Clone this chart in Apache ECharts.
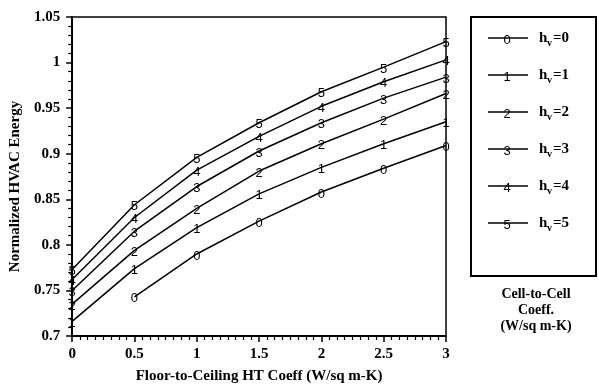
<!DOCTYPE html>
<html>
<head>
<meta charset="utf-8">
<script src="https://cdn.jsdelivr.net/npm/echarts@6/dist/echarts.min.js"></script>
<style>
  html, body { margin: 0; padding: 0; background: #fff; }
  #chart { width: 599px; height: 389px; }
</style>
</head>
<body>
<div id="chart"></div>
<script>
var xValues = [0, 0.5, 1, 1.5, 2, 2.5, 3];
var hvLevels = [0, 1, 2, 3, 4, 5];
var hv0 = [null, 0.743, 0.790, 0.826, 0.858, 0.884, 0.909];
var hv1 = [0.716, 0.774, 0.819, 0.856, 0.885, 0.911, 0.935];
var hv2 = [0.735, 0.794, 0.840, 0.881, 0.911, 0.938, 0.966];
var hv3 = [0.750, 0.815, 0.864, 0.903, 0.934, 0.961, 0.984];
var hv4 = [0.762, 0.830, 0.882, 0.919, 0.952, 0.979, 1.003];
var hv5 = [0.773, 0.844, 0.896, 0.934, 0.968, 0.995, 1.023];
var seriesValues = [hv0, hv1, hv2, hv3, hv4, hv5];

var serif = '"Liberation Serif", "DejaVu Serif", serif';
var myChart = echarts.init(document.getElementById('chart'));

var series = seriesValues.map(function (vals, i) {
	return {
		name: 'hv=' + hvLevels[i],
		type: 'line',
		data: xValues.map(function (x, j) { return [x, vals[j]]; }).filter(function (p) { return p[1] != null; }),
		symbol: 'rect',
		symbolSize: 12,
		itemStyle: { color: 'rgba(0,0,0,0)' },
		lineStyle: { color: '#000', width: 1.5 },
		label: {
			show: true,
			position: 'inside',
			offset: [0, 2],
			formatter: String(hvLevels[i]),
			color: '#000',
			fontFamily: '"Liberation Sans", sans-serif',
			fontSize: 13
		},
		animation: false
	};
});

// hand-drawn legend box on the right
var legendTop = 38, legendStep = 37;
var graphics = [{
	type: 'rect',
	shape: { x: 471, y: 17, width: 125, height: 259 },
	style: { fill: '#fff', stroke: '#000', lineWidth: 2 }
}];
hvLevels.forEach(function (h, i) {
	var y = legendTop + i * legendStep;
	graphics.push({ type: 'line', shape: { x1: 488, y1: y, x2: 528, y2: y }, style: { stroke: '#000', lineWidth: 1.5 } });
	graphics.push({ type: 'text', style: { text: String(h), x: 507, y: y + 2, align: 'center', verticalAlign: 'middle', font: '13px "Liberation Sans", sans-serif', fill: '#000' } });
	graphics.push({ type: 'text', style: { text: 'h', x: 539, y: y, align: 'left', verticalAlign: 'middle', font: 'bold 15px ' + serif, fill: '#000' } });
	graphics.push({ type: 'text', style: { text: 'v', x: 547, y: y + 5, align: 'left', verticalAlign: 'middle', font: 'bold 10px ' + serif, fill: '#000' } });
	graphics.push({ type: 'text', style: { text: '=' + h, x: 553, y: y, align: 'left', verticalAlign: 'middle', font: 'bold 15px ' + serif, fill: '#000' } });
});
graphics.push({
	type: 'text',
	style: { text: 'Cell-to-Cell\nCoeff.\n(W/sq m-K)', x: 536, y: 286, align: 'center', verticalAlign: 'top', lineHeight: 16, font: 'bold 14px ' + serif, fill: '#000' }
});

var option = {
	animation: false,
	grid: {
		left: 67,
		right: 153,
		top: 17,
		bottom: 47,
		show: true,
		borderColor: '#000',
		borderWidth: 1.5
	},
	xAxis: {
		type: 'value',
		min: 0,
		max: 3,
		interval: 0.5,
		name: 'Floor-to-Ceiling HT Coeff (W/sq m-K)',
		nameLocation: 'middle',
		nameGap: 33,
		nameTextStyle: { fontFamily: serif, fontWeight: 'bold', fontSize: 15, color: '#000' },
		axisLine: { lineStyle: { color: '#000', width: 2 } },
		axisTick: { length: 6, lineStyle: { color: '#000', width: 1.5 } },
		minorTick: { show: true, splitNumber: 8, length: 4, lineStyle: { color: '#000', width: 1.2 } },
		splitLine: { show: false },
		axisLabel: { margin: 11, fontFamily: serif, fontWeight: 'bold', fontSize: 15, color: '#000' }
	},
	yAxis: {
		type: 'value',
		min: 0.7,
		max: 1.05,
		interval: 0.05,
		name: 'Normalized HVAC Energy',
		nameLocation: 'middle',
		nameGap: 42,
		nameTextStyle: { fontFamily: serif, fontWeight: 'bold', fontSize: 15, color: '#000', padding: [0, 0, 0, -20] },
		axisLine: { show: true, lineStyle: { color: '#000', width: 2 } },
		axisTick: { length: 6, lineStyle: { color: '#000', width: 1.5 } },
		minorTick: { show: true, splitNumber: 5, length: 4, lineStyle: { color: '#000', width: 1.2 } },
		splitLine: { show: false },
		axisLabel: { margin: 12, fontFamily: serif, fontWeight: 'bold', fontSize: 15, color: '#000' }
	},
	graphic: graphics,
	series: series
};

option && myChart.setOption(option);
</script>
</body>
</html>
